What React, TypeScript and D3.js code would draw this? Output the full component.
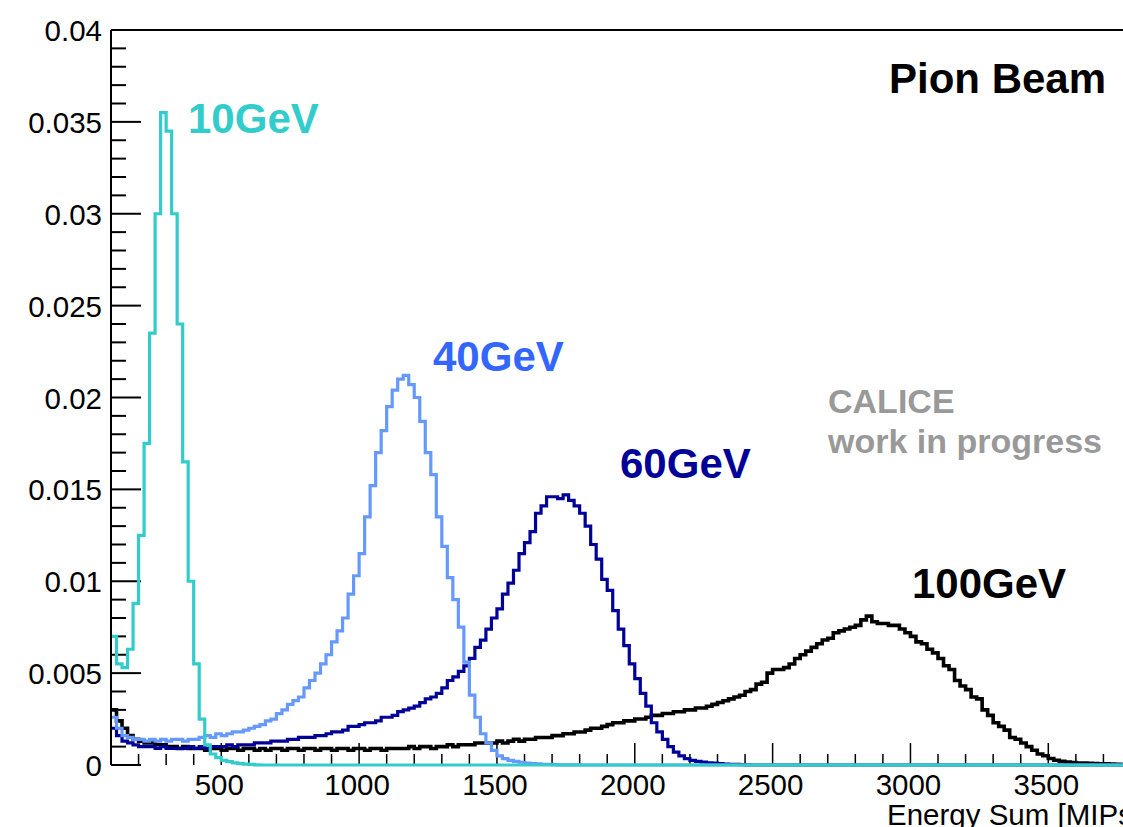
import React from 'react';
import * as d3 from 'd3';

// histogram binning (Energy Sum in MIPs)
const BIN_LOW = 100;
const BIN_WIDTH = 20;
const X_MAX = 3800;
// bin contents are listed in units of 1e-4 (normalised entries)
const UNIT = 1e-4;

// 10 GeV pions, bins from 100 MIP
const pion10GeV = [
  70, 55, 53, 63, 88, 125, 175, 235, 300, 355,
  345, 300, 240, 165, 100, 55, 25, 11, 6, 4,
  2.5, 1.8, 1.2, 0.8, 0.5, 0.3, 0.1,
];

// 40 GeV pions
const pion40GeV = [
  26, 20, 16, 15, 14, 14, 13, 14, 13, 14,
  13, 14, 14, 13, 14, 14, 15, 16, 15, 17,
  16, 17, 18, 18, 19, 20, 21, 22, 24, 25,
  28, 30, 33, 35, 37, 42, 46, 50, 55, 60,
  67, 73, 80, 93, 103, 115, 135, 152, 170, 182,
  195, 204, 210, 212, 207, 200, 187, 170, 158, 135,
  119, 102, 90, 75, 56, 38, 26, 17, 12, 8,
  5, 3.5, 2.5, 2, 1.5, 1, 0.8, 0.6, 0.4, 0.3,
  0.2, 0.1, 0.1, 0.1, 0.05,
];

// 60 GeV pions
const pion60GeV = [
  20, 16, 13, 12, 11, 10, 10, 10, 9, 10,
  9, 9, 9, 9, 10, 9, 10, 9, 10, 10,
  10, 11, 10, 11, 11, 11, 12, 12, 12, 13,
  13, 13, 14, 14, 15, 15, 15, 16, 16, 17,
  18, 18, 19, 21, 21, 22, 23, 23, 24, 26,
  26, 27, 29, 30, 31, 32, 34, 36, 37, 39,
  42, 46, 48, 51, 54, 58, 64, 68, 74, 80,
  85, 93, 99, 106, 115, 121, 127, 137, 141, 146,
  146, 145, 147, 144, 141, 137, 130, 120, 112, 101,
  95, 84, 74, 65, 55, 47, 39, 32, 23, 18,
  14, 10, 7, 5, 3.5, 2.5, 2, 1.6, 1.2, 1,
  0.8, 0.5, 0.4, 0.3, 0.2, 0.1,
];

// 100 GeV pions
const pion100GeV = [
  30, 24, 20, 16, 14, 13, 12, 12, 11, 11,
  10, 10, 9, 10, 9, 9, 9, 8, 9, 9,
  8, 9, 9, 8, 9, 9, 8, 9, 8, 9,
  9, 8, 9, 9, 8, 9, 9, 8, 9, 9,
  8, 9, 9, 8, 9, 9, 8, 9, 9, 8,
  9, 9, 9, 9, 10, 9, 10, 10, 9, 10,
  10, 11, 10, 11, 11, 11, 12, 12, 12, 12,
  13, 12, 13, 14, 13, 14, 14, 15, 15, 15,
  16, 16, 17, 17, 18, 18, 19, 20, 20, 21,
  22, 23, 23, 24, 24, 25, 25, 26, 27, 27,
  28, 28, 29, 29, 30, 30, 31, 31, 32, 33,
  34, 35, 36, 37, 38, 40, 41, 44, 45, 50,
  52, 52, 53, 55, 58, 60, 62, 64, 66, 68,
  69, 72, 73, 74, 75, 76, 79, 81, 78, 77,
  77, 76, 76, 74, 72, 70, 67, 66, 63, 61,
  58, 54, 52, 46, 43, 41, 37, 36, 30, 27,
  23, 21, 19, 15, 14, 12, 10, 8, 6, 5,
  3.5, 2.6, 2, 1.6, 1.3, 1.1, 1, 0.9, 0.8, 0.7,
  0.6, 0.5, 0.4, 0.3, 0.2,
];

const seriesNames = ['100GeV', '60GeV', '40GeV', '10GeV'];
const seriesValues = [pion100GeV, pion60GeV, pion40GeV, pion10GeV];
const seriesColors = ['#000000', '#000099', '#6699ff', '#33cccc'];

const xMajorTicks = [500, 1000, 1500, 2000, 2500, 3000, 3500];
const xTickLabels = ['500', '1000', '1500', '2000', '2500', '3000', '3500'];
const yMajorTicks = [0, 0.005, 0.01, 0.015, 0.02, 0.025, 0.03, 0.035, 0.04];
const yTickLabels = ['0', '0.005', '0.01', '0.015', '0.02', '0.025', '0.03', '0.035', '0.04'];

const FONT = '"Liberation Sans", Arial, Helvetica, sans-serif';

export default function App() {
  const W = 1123;
  const H = 827;
  const left = 111, right = 1131, top = 30, bottom = 765;

  const x = d3.scaleLinear().domain([BIN_LOW, X_MAX]).range([left, right]);
  const y = d3.scaleLinear().domain([0, 0.04]).range([bottom, top]);

  const nBins = Math.round((X_MAX - BIN_LOW) / BIN_WIDTH);

  // step outline for each histogram
  const stepLine = d3
    .line<[number, number]>()
    .x((d) => x(d[0]))
    .y((d) => y(d[1]))
    .curve(d3.curveStepAfter);

  const paths = seriesValues.map((vals) => {
    const pts: [number, number][] = [];
    for (let i = 0; i < nBins; i++) {
      const v = i < vals.length ? vals[i] : 0;
      pts.push([BIN_LOW + i * BIN_WIDTH, v * UNIT]);
    }
    pts.push([X_MAX, pts[pts.length - 1][1]]);
    return stepLine(pts) || '';
  });

  const xMinor = d3.range(BIN_LOW, X_MAX + 1, 100);
  const yMinor = d3.range(0, 41).map((i) => i * 0.001);

  return (
    <svg
      width={W}
      height={H}
      style={{ position: 'absolute', left: 0, top: 0, background: '#fff' }}
      fontFamily={FONT}
    >
      <defs>
        <clipPath id="frame">
          <rect x={left} y={top - 2} width={right - left} height={bottom - top + 4} />
        </clipPath>
      </defs>
      <rect x={0} y={0} width={W} height={H} fill="#fff" />

      {/* y ticks */}
      {yMinor.map((v, i) => (
        <line key={'ym' + i} x1={left} x2={left + (i % 5 === 0 ? 30 : 15)} y1={y(v)} y2={y(v)} stroke="#000" strokeWidth={2} />
      ))}
      {/* x ticks */}
      {xMinor.map((v, i) => (
        <line key={'xm' + i} x1={x(v)} x2={x(v)} y1={bottom} y2={bottom - (v % 500 === 0 ? 22 : 11)} stroke="#000" strokeWidth={1.5} />
      ))}

      {/* histograms */}
      <g clipPath="url(#frame)">
        {paths.map((d, i) => (
          <path
            key={seriesNames[i]}
            d={d}
            fill="none"
            stroke={seriesColors[i]}
            strokeWidth={i === 0 ? 3.6 : 3.2}
            strokeLinejoin="miter"
          />
        ))}
      </g>

      {/* frame */}
      <line x1={left} x2={left} y1={top} y2={bottom} stroke="#000" strokeWidth={2} />
      <line x1={left} x2={right} y1={top} y2={top} stroke="#000" strokeWidth={2} />
      <line x1={right} x2={right} y1={top} y2={bottom} stroke="#000" strokeWidth={2} />

      {/* tick labels */}
      {yMajorTicks.map((v, i) => (
        <text key={'yl' + i} x={102} y={y(v) + 11} textAnchor="end" fontSize={29.5} fill="#000">
          {yTickLabels[i]}
        </text>
      ))}
      {xMajorTicks.map((v, i) => (
        <text key={'xl' + i} x={x(v) - 2} y={795} textAnchor="middle" fontSize={29.5} fill="#000">
          {xTickLabels[i]}
        </text>
      ))}
      <text x={887} y={825} fontSize={29.5} fill="#000">Energy Sum [MIPs]</text>

      {/* annotations */}
      <text x={889} y={93} fontSize={42} fontWeight="bold" fill="#000">Pion Beam</text>
      <text x={188} y={133} fontSize={42} fontWeight="bold" fill="#33cccc">10GeV</text>
      <text x={433} y={371} fontSize={42} fontWeight="bold" fill="#3366ff">40GeV</text>
      <text x={620} y={478} fontSize={42} fontWeight="bold" fill="#000099">60GeV</text>
      <text x={912} y={598} fontSize={42} fontWeight="bold" fill="#000">100GeV</text>
      <text x={828} y={413} fontSize={34} fontWeight="bold" fill="#999999">CALICE</text>
      <text x={828} y={453} fontSize={34} fontWeight="bold" fill="#999999">work in progress</text>
    </svg>
  );
}
